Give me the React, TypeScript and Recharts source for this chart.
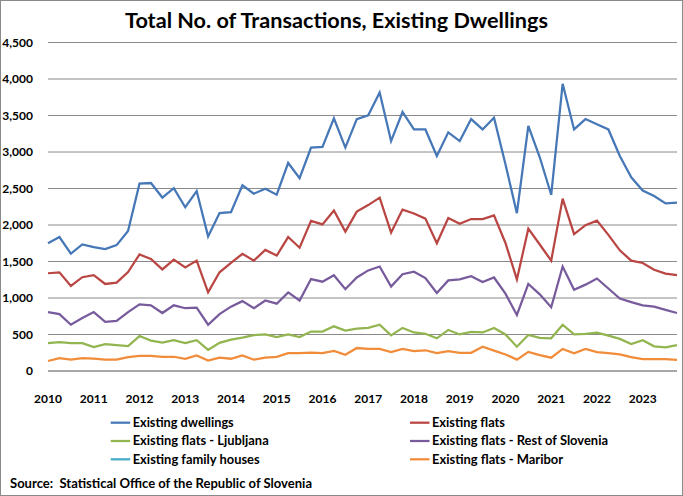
import React from 'react';
import { LineChart, Line, XAxis, YAxis, CartesianGrid } from 'recharts';

const years = [2010, 2011, 2012, 2013, 2014, 2015, 2016, 2017, 2018, 2019, 2020, 2021, 2022, 2023];
const quarters = ['Q1', 'Q2', 'Q3', 'Q4'];
const periods = years.flatMap((y) => quarters.map((q) => `${y} ${q}`));

const existingDwellings = [
  1751, 1835, 1609, 1733, 1698, 1671, 1724, 1919, 2566, 2575,
  2376, 2504, 2243, 2465, 1844, 2163, 2176, 2544, 2429, 2496,
  2416, 2850, 2642, 3060, 3070, 3460, 3061, 3451, 3504, 3814,
  3150, 3548, 3309, 3309, 2946, 3269, 3150, 3451, 3309, 3469,
  2831, 2162, 3358, 2928, 2414, 3934, 3309, 3451, 3380, 3309,
  2946, 2654, 2472, 2397, 2295, 2308,
];
const existingFlats = [
  1339, 1352, 1166, 1285, 1312, 1192, 1210, 1356, 1596, 1534,
  1392, 1525, 1418, 1512, 1078, 1352, 1480, 1605, 1512, 1658,
  1582, 1835, 1689, 2057, 2008, 2199, 1910, 2184, 2273, 2375,
  1896, 2211, 2158, 2087, 1750, 2096, 2016, 2082, 2082, 2131,
  1754, 1254, 1950, 1733, 1511, 2361, 1874, 1998, 2060, 1865,
  1653, 1511, 1480, 1387, 1334, 1312,
];
const flatsRestOfSlovenia = [
  807, 780, 634, 727, 807, 674, 687, 807, 913, 900,
  794, 900, 860, 869, 634, 780, 882, 957, 860, 966,
  922, 1077, 966, 1259, 1223, 1312, 1121, 1281, 1378, 1431,
  1157, 1325, 1360, 1272, 1068, 1241, 1254, 1298, 1219, 1281,
  1059, 767, 1192, 1050, 873, 1431, 1112, 1183, 1267, 1130,
  993, 944, 900, 882, 838, 794,
];
const flatsLjubljana = [
  381, 394, 381, 381, 328, 368, 355, 341, 479, 417,
  390, 421, 381, 421, 288, 386, 430, 457, 492, 501,
  466, 501, 466, 541, 541, 612, 555, 581, 590, 634,
  488, 590, 528, 510, 448, 563, 501, 537, 528, 590,
  501, 333, 493, 453, 448, 634, 501, 510, 524, 484,
  440, 369, 422, 338, 324, 355,
];
const flatsMaribor = [
  137, 177, 155, 177, 168, 155, 155, 190, 208, 208,
  195, 195, 168, 213, 142, 182, 168, 213, 155, 182,
  195, 244, 244, 253, 244, 275, 222, 315, 302, 302,
  258, 302, 271, 284, 244, 271, 249, 249, 333, 280,
  227, 156, 262, 218, 182, 302, 244, 302, 258, 244,
  227, 191, 164, 164, 164, 151,
];

const yTicks = [0, 500, 1000, 1500, 2000, 2500, 3000, 3500, 4000, 4500];

const series = [
  { key: 'dwellings', name: 'Existing dwellings', color: '#4677B6', values: existingDwellings },
  { key: 'flats', name: 'Existing flats', color: '#B94643', values: existingFlats },
  { key: 'ljubljana', name: 'Existing flats - Ljubljana', color: '#92B550', values: flatsLjubljana },
  { key: 'rest', name: 'Existing flats - Rest of Slovenia', color: '#775B9C', values: flatsRestOfSlovenia },
  { key: 'houses', name: 'Existing family houses', color: '#46AAC5', values: [] as number[] },
  { key: 'maribor', name: 'Existing flats - Maribor', color: '#F08C3A', values: flatsMaribor },
];

const data = periods.map((p, i) => {
  const row: Record<string, string | number> = { period: p };
  series.forEach((s) => {
    if (s.values.length) row[s.key] = s.values[i];
  });
  return row;
});

const legendLayout = [
  { key: 'dwellings', x: 110.7, y: 422.7, w: 101 },
  { key: 'flats', x: 410, y: 422.7, w: 73 },
  { key: 'ljubljana', x: 110.7, y: 441, w: 136 },
  { key: 'rest', x: 410, y: 441, w: 176 },
  { key: 'houses', x: 110.7, y: 459.3, w: 127 },
  { key: 'maribor', x: 410, y: 459.3, w: 131 },
];

const FONT = 'Lato, "Open Sans", sans-serif';

export default function App() {
  return (
    <div
      style={{
        position: 'absolute',
        left: 0,
        top: 0,
        width: 683,
        height: 496,
        background: '#fff',
        fontFamily: FONT,
      }}
    >
      <LineChart
        width={683}
        height={496}
        data={data}
        margin={{ top: 42.5, right: 6, bottom: 95, left: 8 }}
      >
        <CartesianGrid horizontal vertical={false} stroke="#8A8A8A" strokeWidth={1} />
        <XAxis
          dataKey="period"
          interval={3}
          tickFormatter={(v: string) => v.slice(0, 4)}
          tickLine={false}
          axisLine={{ stroke: '#8A8A8A' }}
          tickSize={0}
          tickMargin={23.5}
          height={30}
          tick={{ fill: '#000', fontSize: 12, fontWeight: 700, fontFamily: FONT }}
        />
        <YAxis
          domain={[0, 4500]}
          ticks={yTicks}
          width={40}
          tickLine={false}
          axisLine={false}
          tickSize={0}
          tickMargin={15}
          tickFormatter={(v: number) => v.toLocaleString('en-US')}
          tick={{ fill: '#000', fontSize: 12, fontWeight: 700, fontFamily: FONT }}
        />
        {series
          .filter((s) => s.values.length)
          .map((s) => (
            <Line
              key={s.key}
              type="linear"
              dataKey={s.key}
              name={s.name}
              stroke={s.color}
              strokeWidth={2.25}
              dot={false}
              isAnimationActive={false}
            />
          ))}
      </LineChart>
      <svg
        width={683}
        height={496}
        style={{ position: 'absolute', left: 0, top: 0, pointerEvents: 'none' }}
      >
        <rect x={0.5} y={0.5} width={682} height={495} fill="none" stroke="#8A8A8A" strokeWidth={1} />
        <text
          x={336.5}
          y={27.5}
          textAnchor="middle"
          fontSize={20}
          fontWeight={700}
          fontFamily={FONT}
          fill="#000"
          textLength={423}
          lengthAdjust="spacingAndGlyphs"
        >
          Total No. of Transactions, Existing Dwellings
        </text>
        {legendLayout.map((l) => {
          const s = series.find((q) => q.key === l.key)!;
          return (
            <g key={l.key}>
              <line x1={l.x} x2={l.x + 19.5} y1={l.y} y2={l.y} stroke={s.color} strokeWidth={2.25} />
              <text
                x={l.x + 22}
                y={l.y + 4.4}
                fontSize={12.5}
                fontWeight={700}
                fontFamily={FONT}
                fill="#000"
                textLength={l.w}
                lengthAdjust="spacingAndGlyphs"
              >
                {s.name}
              </text>
            </g>
          );
        })}
        <text
          x={10}
          y={487.5}
          fontSize={13}
          fontWeight={700}
          fontFamily={FONT}
          fill="#000"
          textLength={302}
          lengthAdjust="spacingAndGlyphs"
        >
          {'Source:\u00A0 Statistical Office of the Republic of Slovenia'}
        </text>
      </svg>
    </div>
  );
}
